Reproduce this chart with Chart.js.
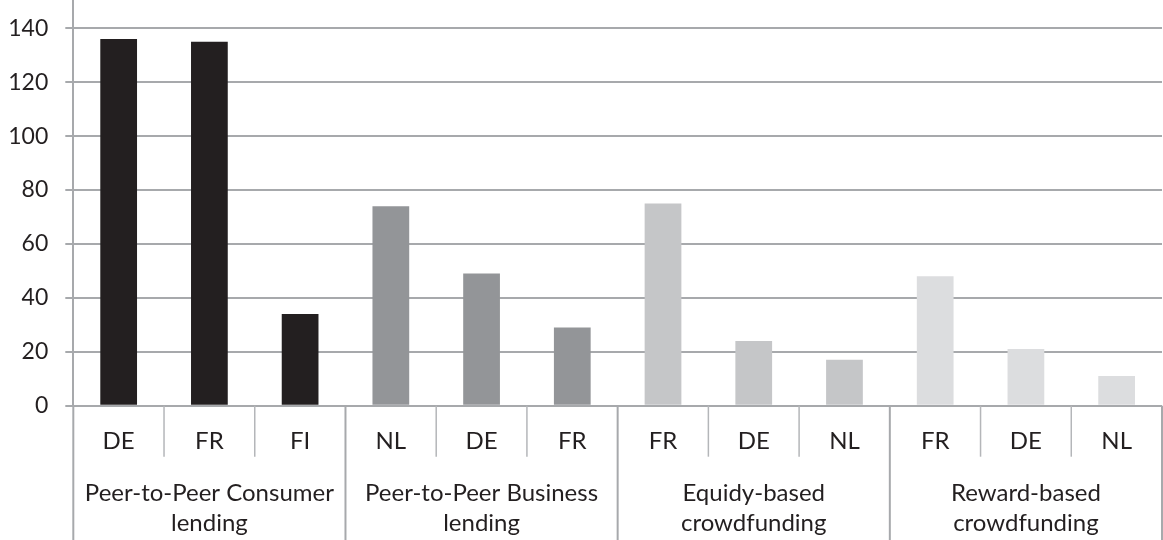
<!DOCTYPE html>
<html>
<head>
<meta charset="utf-8">
<style>
  html, body { margin: 0; padding: 0; background: #ffffff; }
  #wrap { width: 1163px; height: 540px; position: relative; }
</style>
<script src="https://cdn.jsdelivr.net/npm/chart.js@4.4.1/dist/chart.umd.min.js"></script>
</head>
<body>
<div id="wrap"><canvas id="c" width="1163" height="540"></canvas></div>
<script>
// ---- Data ----
const countries = ['DE', 'FR', 'FI', 'NL', 'DE', 'FR', 'FR', 'DE', 'NL', 'FR', 'DE', 'NL'];
const values = [136, 135, 34, 74, 49, 29, 75, 24, 17, 48, 21, 11];
const groupNames = [
  ['Peer-to-Peer Consumer', 'lending'],
  ['Peer-to-Peer Business', 'lending'],
  ['Equidy-based', 'crowdfunding'],
  ['Reward-based', 'crowdfunding']
];
const groupSizes = [3, 3, 3, 3];
const groupColors = ['#231f20', '#939598', '#c5c6c8', '#dcdddf'];
const yTicks = [0, 20, 40, 60, 80, 100, 120, 140];

// ---- Styling ----
const TEXT = '#231f20';
const GRID = '#a7a9ac';
const FONT = 'Lato';

const barColors = [];
groupSizes.forEach((n, g) => { for (let i = 0; i < n; i++) barColors.push(groupColors[g]); });

const decorPlugin = {
  id: 'decor',
  afterDraw(chart) {
    const ctx = chart.ctx;
    const xs = chart.scales.x;
    const ca = chart.chartArea;
    const H = chart.height;
    const half = (xs.getPixelForValue(1) - xs.getPixelForValue(0)) / 2;
    const edge = i => (i < countries.length ? xs.getPixelForValue(i) - half : xs.getPixelForValue(countries.length - 1) + half);
    ctx.save();
    const groupEdges = [0];
    groupSizes.forEach(n => groupEdges.push(groupEdges[groupEdges.length - 1] + n));
    for (let i = 0; i <= countries.length; i++) {
      const x = edge(i);
      const isGroup = groupEdges.includes(i);
      ctx.beginPath();
      ctx.strokeStyle = isGroup ? GRID : '#b4b6b9';
      ctx.lineWidth = isGroup ? 2 : 1.5;
      ctx.moveTo(x, ca.bottom);
      ctx.lineTo(x, isGroup ? H : ca.bottom + 51);
      ctx.stroke();
    }
    ctx.fillStyle = TEXT;
    ctx.font = '24px ' + FONT;
    ctx.textAlign = 'center';
    ctx.textBaseline = 'alphabetic';
    groupNames.forEach((lines, g) => {
      const cx = (edge(groupEdges[g]) + edge(groupEdges[g + 1])) / 2;
      lines.forEach((t, k) => ctx.fillText(t, cx, ca.bottom + 95.5 + k * 30));
    });
    ctx.restore();
  }
};

new Chart(document.getElementById('c'), {
  type: 'bar',
  data: {
    labels: countries,
    datasets: [{
      data: values,
      backgroundColor: barColors,
      borderWidth: 0,
      categoryPercentage: 1.0,
      barPercentage: 0.405
    }]
  },
  options: {
    responsive: false,
    animation: false,
    devicePixelRatio: 1,
    layout: { padding: { top: 0, right: 1, left: 0, bottom: 0 } },
    plugins: { legend: { display: false }, tooltip: { enabled: false } },
    scales: {
      x: {
        grid: { display: false, drawTicks: false },
        border: { display: false },
        ticks: { color: TEXT, font: { family: FONT, size: 24 }, padding: 21, maxRotation: 0, autoSkip: false },
        afterFit(s) { s.height = 134.3; s.paddingLeft = 0; s.paddingRight = 0; }
      },
      y: {
        min: 0,
        max: 150.5,
        afterBuildTicks(axis) { axis.ticks = yTicks.map(v => ({ value: v })); },
        grid: { color: GRID, lineWidth: 2, tickLength: 8, drawTicks: true },
        border: { display: true, color: GRID, width: 2 },
        ticks: { color: TEXT, font: { family: FONT, size: 23 }, padding: 17 },
        afterFit(s) { s.width = 73.3; s.paddingTop = 0; s.paddingBottom = 0; }
      }
    }
  },
  plugins: [decorPlugin]
});
</script>
</body>
</html>
